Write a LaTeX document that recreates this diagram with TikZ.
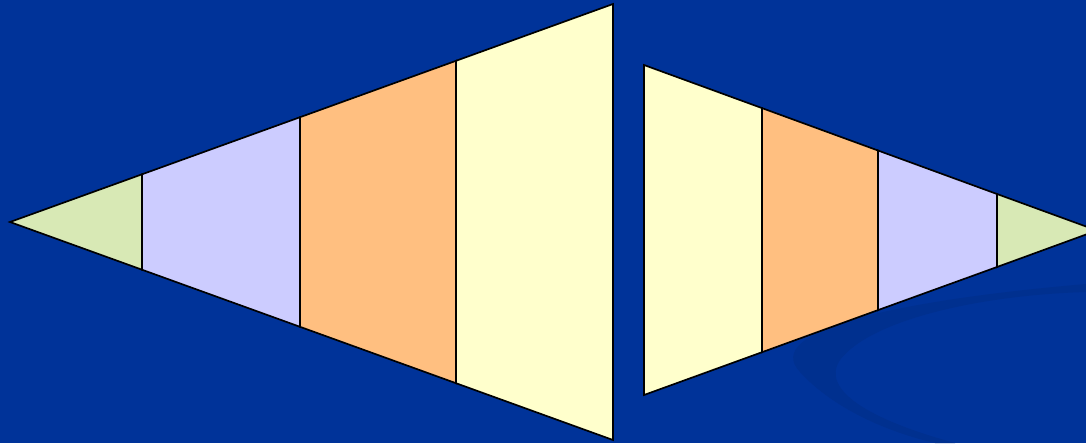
\documentclass[tikz,border=0pt]{standalone}
\usepackage{xcolor}
\definecolor{slide-bg}{HTML}{003399}
\definecolor{slide-swoosh}{HTML}{00308F}
\definecolor{band-green}{HTML}{D8E9B5}
\definecolor{band-lilac}{HTML}{CCCCFF}
\definecolor{band-orange}{HTML}{FFBF80}
\definecolor{band-cream}{HTML}{FFFFCC}

\begin{document}
\begin{tikzpicture}[x=0.025cm, y=-0.025cm,
    band/.style={draw=black, line width=1.2pt, line join=miter}]
    % background
    \fill[slide-bg] (0,0) rectangle (1086,443);
    \useasboundingbox (0,0) rectangle (1086,443);
    \clip (0,0) rectangle (1086,443);
    % faint swoosh
    \fill[slide-swoosh] (1086,284) .. controls (900,300) and (760,330) .. (800,372)
      .. controls (830,405) and (880,430) .. (935,443) -- (955,443)
      .. controls (870,420) and (820,390) .. (840,360)
      .. controls (870,320) and (980,295) .. (1086,292) -- cycle;
    % left wedge
    \filldraw[band, fill=band-green]  (10,222) -- (142,174.3) -- (142,269.7) -- cycle;
    \filldraw[band, fill=band-lilac]  (142,174.3) -- (300,117.2) -- (300,326.8) -- (142,269.7) -- cycle;
    \filldraw[band, fill=band-orange] (300,117.2) -- (456,60.8) -- (456,383.2) -- (300,326.8) -- cycle;
    \filldraw[band, fill=band-cream]  (456,60.8) -- (613,4) -- (613,440) -- (456,383.2) -- cycle;
    % right wedge
    \filldraw[band, fill=band-cream]  (644,65) -- (762,108.1) -- (762,352.2) -- (644,395) -- cycle;
    \filldraw[band, fill=band-orange] (762,108.1) -- (878,150.5) -- (878,310.1) -- (762,352.2) -- cycle;
    \filldraw[band, fill=band-lilac]  (878,150.5) -- (997,194) -- (997,267) -- (878,310.1) -- cycle;
    \filldraw[band, fill=band-green]  (997,194) -- (1097,230.5) -- (997,267) -- cycle;
\end{tikzpicture}
\end{document}
